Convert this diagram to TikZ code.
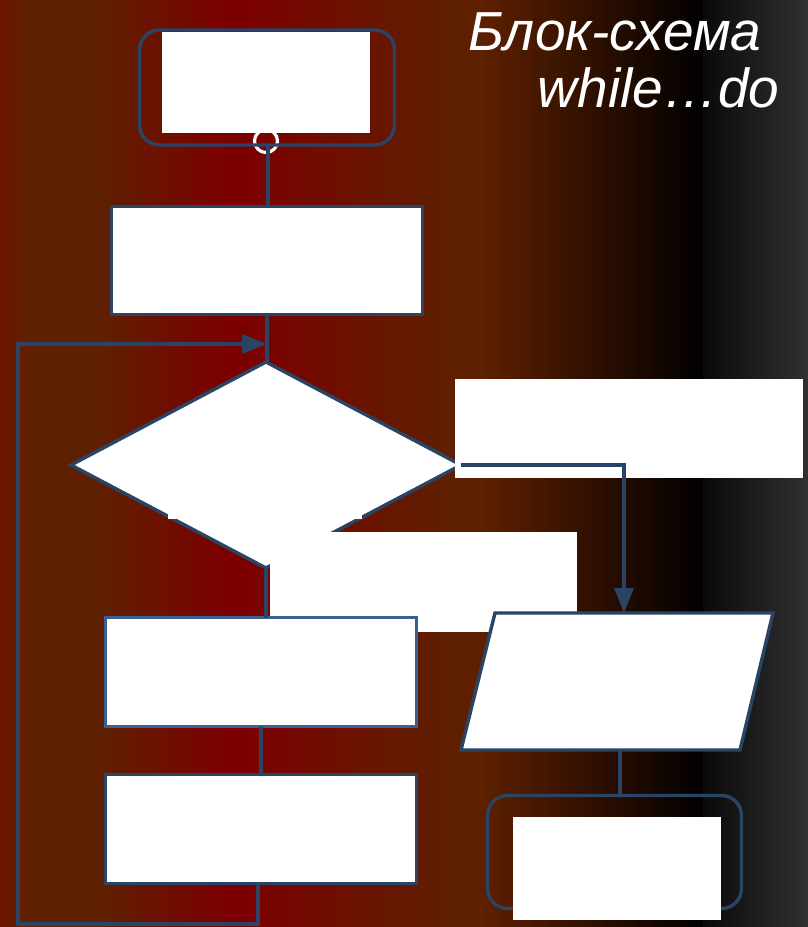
\documentclass[tikz,border=0pt]{standalone}
\usepackage{fontspec}
\setmainfont{Liberation Sans}
\usetikzlibrary{arrows.meta,positioning,shapes.geometric,calc}
\definecolor{LineBlue}{RGB}{42,68,102}
\definecolor{LightBlue}{RGB}{60,95,145}
\definecolor{BgRed}{RGB}{108,22,0}
\definecolor{BgBrown}{RGB}{94,32,0}
\definecolor{BgMaroon}{RGB}{124,0,0}
\definecolor{BgDark}{RGB}{10,10,10}
\definecolor{BgGray}{RGB}{48,48,48}

\begin{document}
\begin{tikzpicture}[x=1pt,y=-1pt,line width=3.4pt,
    block/.style={draw=LineBlue, fill=white, inner sep=0pt, outer sep=0pt},
    blank/.style={fill=white, inner sep=0pt, outer sep=0pt},
    terminal/.style={draw=LineBlue, rounded corners=20pt, inner sep=0pt, outer sep=0pt},
    heading/.style={anchor=base east, text=white, inner sep=0pt, font=\itshape\fontsize{55}{58}\selectfont},
    flow/.style={draw=LineBlue},
    flowarrow/.style={draw=LineBlue, -{Triangle[length=25pt,width=19pt]}}]
        \useasboundingbox (0,0) rectangle (808,927);
        % background
        \shade[left color=BgRed, right color=BgBrown] (0,0) rectangle (30,927);
        \fill[BgBrown] (30,0) rectangle (100,927);
        \shade[left color=BgBrown, right color=BgMaroon] (100,0) rectangle (225,927);
        \fill[BgMaroon] (225,0) rectangle (240,927);
        \shade[left color=BgMaroon, right color=BgBrown] (240,0) rectangle (450,927);
        \fill[BgBrown] (450,0) rectangle (480,927);
        \shade[left color=BgBrown, right color=black] (480,0) rectangle (703,927);
        \shade[left color=BgDark, right color=BgGray] (703,0) rectangle (808,927);
        % title
        \node[heading] (title1) at (763,50) {Блок-схема};
        \node[heading] (title2) at (781,107) {while…do};
        % start
        \node[circle, draw=white, line width=3.2pt, minimum size=23pt, inner sep=0pt, outer sep=0pt] (ring) at (266,141) {};
        \node[terminal, minimum width=255pt, minimum height=115pt] (start) at (267,87.5) {};
        \node[blank, minimum width=208pt, minimum height=101pt] (starttext) at (266,82.5) {};
        % blocks
        \node[block, minimum width=311pt, minimum height=108pt] (proc1) at (267,260.5) {};
        \node[block, diamond, minimum width=390pt, minimum height=206pt] (cond) at (266,465) {};
        \node[blank, minimum width=194pt, minimum height=101pt] (condtext) at (265,468.5) {};
        \node[blank, minimum width=348pt, minimum height=99pt] (yestext) at (629,428.5) {};
        \node[blank, minimum width=307pt, minimum height=100pt] (notext) at (423.5,582) {};
        \node[block, draw=LightBlue, minimum width=311pt, minimum height=109pt] (proc2) at (261,672) {};
        \node[block, minimum width=311pt, minimum height=109pt] (proc3) at (261,829) {};
        % output (parallelogram)
        \draw[LineBlue, fill=white] (495,613) -- (773,613) -- (740,750) -- (461,750) -- cycle;
        \coordinate (iotop) at (624,613);
        \coordinate (iobot) at (620,750);
        % end
        \node[terminal, minimum width=254pt, minimum height=113pt] (end) at (614.5,852) {};
        \node[blank, minimum width=208pt, minimum height=103pt] (endtext) at (617,868.5) {};
        % connectors
        \coordinate (loopin) at (267,344);
        \coordinate (loopcorner) at (18,924);
        \draw[flow] ([xshift=2pt]ring.south |- start.south) -- ([xshift=2pt]ring.south |- proc1.north);
        \draw[flow] (proc1.south) -- (proc1.south |- cond.north);
        \draw[flow] (cond.south) -- (cond.south |- proc2.north);
        \draw[flow] (proc2.south) -- (proc3.north);
        \draw[flowarrow] ([xshift=-3pt]proc3.south) |- (loopcorner) |- (loopin);
        \draw[flowarrow] (cond.east) -| (iotop);
        \draw[flow] (iobot) -- (iobot |- end.north);
\end{tikzpicture}
\end{document}
